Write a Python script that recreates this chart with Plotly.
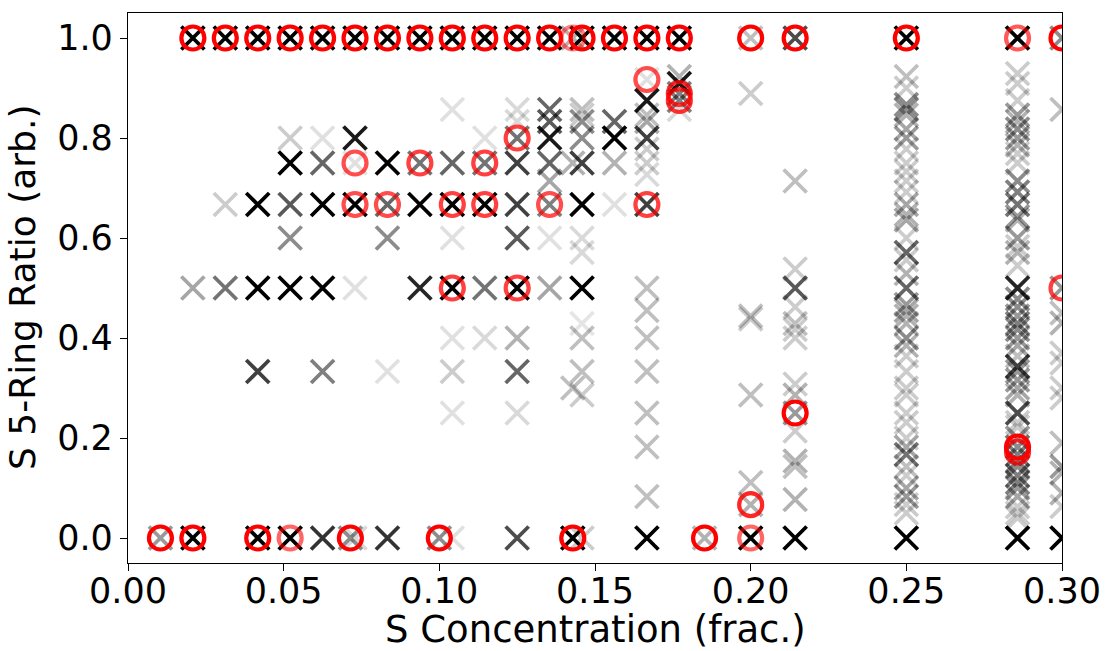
import plotly.graph_objects as go

# ---- column x positions (S concentration, frac.) ----
K = {k: k / 96 for k in range(1, 19)}
X_1_14 = 1 / 14
X_01 = 0.10
X_1_7 = 1 / 7
X_5_27 = 5 / 27
X_02 = 0.20
X_3_14 = 3 / 14
X_025 = 0.25
X_2_7 = 2 / 7
X_03 = 0.30

# ---- black "x" markers: (y, alpha) per column ----
cross_k1 = [(0, 0.4)]
cross_k2 = [(1, 1), (0.5, 0.35), (0, 1)]
cross_k3 = [(1, 1), (0.667, 0.2), (0.5, 0.55)]
cross_k4 = [(1, 1), (0.667, 1), (0.5, 1), (0.333, 0.75), (0, 1)]
cross_k5 = [(1, 1), (0.8, 0.2), (0.75, 1), (0.667, 0.65), (0.6, 0.45), (0.5, 1), (0, 1)]
cross_k6 = [(1, 1), (0.8, 0.12), (0.75, 0.6), (0.667, 1), (0.5, 1), (0.333, 0.5), (0, 0.8)]
cross_k7 = [(1, 1), (0.8, 0.9), (0.75, 0.12), (0.667, 1), (0.5, 0.12), (0, 0.15)]
cross_1_14 = [(0, 0.45)]
cross_k8 = [(1, 1), (0.75, 1), (0.667, 0.6), (0.6, 0.45), (0.333, 0.12), (0, 0.8)]
cross_k9 = [(1, 1), (0.75, 0.55), (0.667, 1), (0.5, 0.85)]
cross_01 = [(0, 0.45)]
cross_k10 = [(1, 1), (0.857, 0.12), (0.75, 0.6), (0.667, 1), (0.6, 0.12), (0.5, 1),
             (0.4, 0.12), (0.333, 0.2), (0.25, 0.12), (0, 0.12)]
cross_k11 = [(1, 1), (0.8, 0.12), (0.75, 0.55), (0.667, 1), (0.5, 0.55), (0.4, 0.15)]
cross_k12 = [(1, 1), (0.857, 0.15), (0.833, 0.15), (0.8, 0.55), (0.75, 0.75), (0.667, 0.75),
             (0.6, 0.65), (0.5, 1), (0.4, 0.3), (0.333, 0.6), (0.25, 0.15), (0, 0.7)]
cross_k13 = [(1, 1), (0.857, 0.6), (0.833, 0.65), (0.8, 0.9), (0.75, 0.6), (0.714, 0.35),
             (0.667, 0.5), (0.6, 0.12), (0.5, 0.35)]
cross_1_7 = [(1, 0.3), (0.75, 0.3), (0.3, 0.25), (0, 1)]
cross_k14 = [(1, 1), (0.857, 0.25), (0.846, 0.2), (0.833, 0.45), (0.8, 0.45), (0.75, 0.75),
             (0.667, 1), (0.6, 0.15), (0.571, 0.15), (0.5, 1), (0.429, 0.1), (0.4, 0.25),
             (0.333, 0.25), (0.286, 0.2), (0, 0.2)]
cross_k15 = [(1, 1), (0.833, 0.6), (0.8, 1), (0.75, 0.3), (0.667, 0.12)]
cross_k16 = [(1, 1), (0.917, 0.12), (0.875, 0.9), (0.846, 0.25), (0.833, 0.35), (0.8, 0.75),
             (0.778, 0.2), (0.75, 0.2), (0.727, 0.15), (0.667, 0.75), (0.5, 0.25),
             (0.455, 0.25), (0.4, 0.25), (0.333, 0.25), (0.25, 0.25), (0.182, 0.25),
             (0.083, 0.25), (0, 1)]
cross_k17 = [(1, 1), (0.923, 0.3), (0.909, 0.9), (0.889, 0.5), (0.875, 0.5), (0.857, 0.15)]
cross_5_27 = [(0, 0.3)]
cross_02 = [(1, 0.25), (0.889, 0.2), (0.444, 0.25), (0.438, 0.2), (0.286, 0.25),
            (0.111, 0.25), (0.0667, 0.3), (0, 1)]
cross_3_14 = [(1, 0.7), (0.714, 0.25), (0.538, 0.2), (0.5, 0.65), (0.462, 0.2), (0.429, 0.25),
              (0.417, 0.2), (0.4, 0.2), (0.308, 0.2), (0.286, 0.3), (0.25, 0.4), (0.214, 0.2),
              (0.154, 0.3), (0.143, 0.25), (0.077, 0.3), (0, 1)]
cross_025 = [(1, 1), (0.923, 0.25), (0.9, 0.2), (0.867, 0.45), (0.857, 0.45), (0.846, 0.3),
             (0.818, 0.35), (0.8, 0.4), (0.778, 0.2), (0.75, 0.2), (0.733, 0.2), (0.714, 0.2),
             (0.692, 0.2), (0.667, 0.35), (0.647, 0.3), (0.636, 0.35), (0.6, 0.2), (0.571, 0.6),
             (0.556, 0.2), (0.529, 0.3), (0.5, 0.6), (0.467, 0.4), (0.455, 0.35), (0.444, 0.3),
             (0.429, 0.3), (0.4, 0.45), (0.385, 0.3), (0.364, 0.2), (0.333, 0.2), (0.3, 0.2),
             (0.286, 0.2), (0.25, 0.2), (0.231, 0.2), (0.2, 0.2), (0.182, 0.35), (0.167, 0.55),
             (0.143, 0.25), (0.125, 0.2), (0.1, 0.35), (0.083, 0.4), (0.067, 0.2), (0.05, 0.2),
             (0, 1)]
cross_2_7 = [(1, 1), (0.929, 0.2), (0.909, 0.2), (0.875, 0.2), (0.846, 0.4), (0.833, 0.3),
             (0.818, 0.45), (0.8, 0.4), (0.786, 0.3), (0.769, 0.2), (0.75, 0.2), (0.714, 0.45),
             (0.692, 0.5), (0.667, 0.55), (0.643, 0.4), (0.636, 0.3), (0.6, 0.4), (0.583, 0.2),
             (0.571, 0.3), (0.545, 0.2), (0.5, 0.85), (0.478, 0.45), (0.462, 0.45), (0.444, 0.4),
             (0.429, 0.5), (0.417, 0.45), (0.4, 0.4), (0.385, 0.35), (0.364, 0.25), (0.343, 0.75),
             (0.333, 0.4), (0.316, 0.4), (0.3, 0.35), (0.286, 0.3), (0.25, 0.7), (0.231, 0.2),
             (0.222, 0.2), (0.2, 0.4), (0.182, 0.45), (0.167, 0.5), (0.154, 0.5), (0.143, 0.45),
             (0.125, 0.5), (0.111, 0.5), (0.1, 0.4), (0.083, 0.35), (0.0625, 0.2), (0.05, 0.2),
             (0.04, 0.2), (0, 1)]
cross_03 = [(1, 0.45), (0.857, 0.25), (0.5, 0.4), (0.45, 0.25), (0.43, 0.3), (0.37, 0.2),
            (0.35, 0.2), (0.3, 0.2), (0.28, 0.2), (0.19, 0.25), (0.143, 0.4), (0.13, 0.3),
            (0.09, 0.3), (0.063, 0.2), (0, 1)]

cross_columns = [
    (K[1], cross_k1), (K[2], cross_k2), (K[3], cross_k3), (K[4], cross_k4), (K[5], cross_k5),
    (K[6], cross_k6), (K[7], cross_k7), (X_1_14, cross_1_14), (K[8], cross_k8), (K[9], cross_k9),
    (X_01, cross_01), (K[10], cross_k10), (K[11], cross_k11), (K[12], cross_k12),
    (K[13], cross_k13), (X_1_7, cross_1_7), (K[14], cross_k14), (K[15], cross_k15),
    (K[16], cross_k16), (K[17], cross_k17), (X_5_27, cross_5_27), (X_02, cross_02),
    (X_3_14, cross_3_14), (X_025, cross_025), (X_2_7, cross_2_7), (X_03, cross_03),
]

# ---- red open circles: (x, y, alpha) ----
circles_top = [(K[k], 1, 1) for k in range(2, 15)] + [
    (X_1_7, 1, 0.5), (K[15], 1, 1), (K[16], 1, 1), (K[17], 1, 1), (X_02, 1, 1),
    (X_3_14, 1, 1), (X_025, 1, 1), (X_2_7, 1, 0.65), (X_03, 1, 1)]
circles_mid = [
    (K[7], 0.75, 0.7), (K[9], 0.75, 0.75), (K[11], 0.75, 0.75), (K[12], 0.8, 0.75),
    (K[7], 0.667, 0.7), (K[8], 0.667, 0.7), (K[10], 0.667, 0.75), (K[11], 0.667, 0.75),
    (K[13], 0.667, 0.7), (K[16], 0.667, 0.75), (K[16], 0.917, 0.7), (K[17], 0.889, 0.8),
    (K[17], 0.875, 0.8), (K[10], 0.5, 0.75), (K[12], 0.5, 0.75), (X_03, 0.5, 0.75),
    (X_3_14, 0.25, 1), (X_2_7, 0.182, 1), (X_2_7, 0.172, 0.8), (X_02, 0.0667, 0.85)]
circles_zero = [
    (K[1], 0, 1), (K[2], 0, 1), (K[4], 0, 1), (K[5], 0, 0.6), (X_1_14, 0, 1),
    (X_01, 0, 1), (X_1_7, 0, 1), (X_5_27, 0, 1), (X_02, 0, 0.6)]

x_title = "S Concentration (frac.)"
y_title = "S 5-Ring Ratio (arb.)"

cx, cy, cc = [], [], []
for xv, pts in cross_columns:
    for yv, a in pts:
        cx.append(xv)
        cy.append(yv)
        cc.append(f"rgba(0,0,0,{a})")

rx, ry, rc = [], [], []
for xv, yv, a in circles_top + circles_mid + circles_zero:
    rx.append(xv)
    ry.append(yv)
    rc.append(f"rgba(255,0,0,{a})")

fig = go.Figure()
fig.add_trace(go.Scatter(
    x=cx, y=cy, mode="markers", showlegend=False, hoverinfo="skip",
    marker=dict(symbol="x-thin-open", size=23, color=cc, line=dict(width=3.8, color=cc)),
))
fig.add_trace(go.Scatter(
    x=rx, y=ry, mode="markers", showlegend=False, hoverinfo="skip",
    marker=dict(symbol="circle-open", size=23, color=rc, line=dict(width=4.2, color=rc)),
))

font = "DejaVu Sans"
xt = [0, 0.05, 0.10, 0.15, 0.20, 0.25, 0.30]
yt = [0.0, 0.2, 0.4, 0.6, 0.8, 1.0]
axis_common = dict(
    showline=True, linecolor="black", linewidth=1.3, mirror=True,
    ticks="outside", ticklen=7, tickwidth=1.3, tickcolor="black",
    showgrid=False, zeroline=False, automargin=False,
    tickfont=dict(family=font, size=35, color="black"),
)
W, H = 1107, 651
ML, MR, MT, MB = 128, 45, 13, 88
pw, ph = W - ML - MR, H - MT - MB
fig.update_layout(
    width=W, height=H,
    margin=dict(l=ML, r=MR, t=MT, b=MB),
    paper_bgcolor="white", plot_bgcolor="white",
    xaxis=dict(range=[0, 0.30], tickvals=xt, ticktext=[f"{v:.2f}" for v in xt],
               ticklabelstandoff=-10, **axis_common),
    yaxis=dict(range=[-0.05, 1.05], tickvals=yt, ticktext=[f"{v:.1f}" for v in yt],
               **axis_common),
    annotations=[
        dict(text=x_title, xref="paper", yref="paper", x=0.5, y=-(629 - (MT + ph)) / ph,
             xanchor="center", yanchor="middle", showarrow=False,
             font=dict(family=font, size=37, color="black")),
        dict(text=y_title, xref="paper", yref="paper", x=(22 - ML) / pw, y=0.5,
             xanchor="center", yanchor="middle", showarrow=False, textangle=-90,
             font=dict(family=font, size=36, color="black")),
    ],
)
fig.write_html("out.html")
